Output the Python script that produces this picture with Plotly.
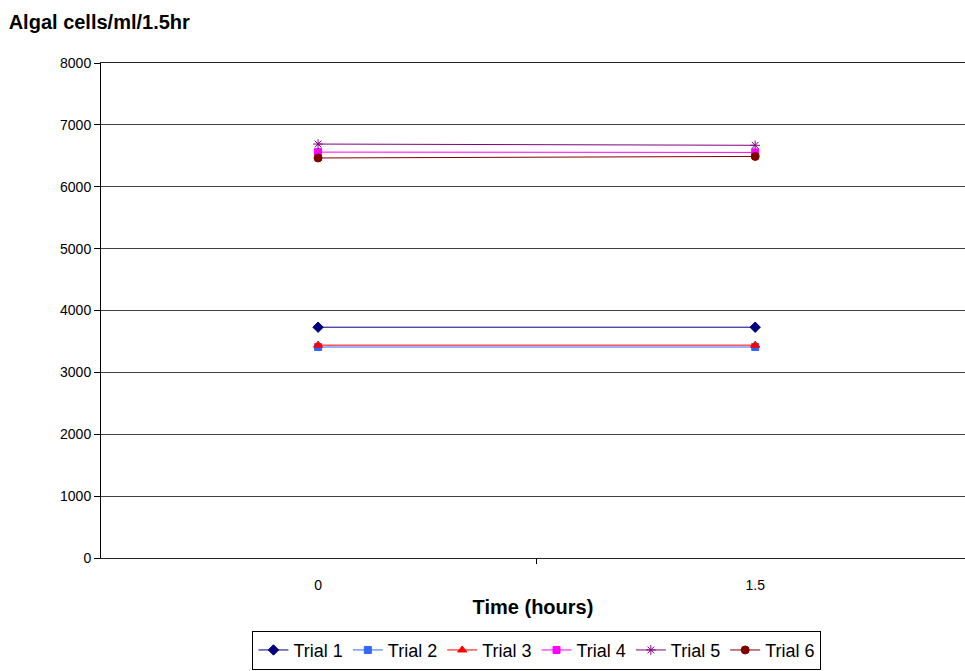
import plotly.graph_objects as go

categories = ["0", "1.5"]
trial_names = ["Trial 1", "Trial 2", "Trial 3", "Trial 4", "Trial 5", "Trial 6"]
trial1 = [3730, 3730]
trial2 = [3410, 3410]
trial3 = [3440, 3440]
trial4 = [6560, 6555]
trial5 = [6690, 6670]
trial6 = [6465, 6490]
series = [trial1, trial2, trial3, trial4, trial5, trial6]
colors = ["#000080", "#3366FF", "#FF0000", "#FF00FF", "#800080", "#800000"]
symbols = ["diamond", "square", "triangle-up", "square", "asterisk-open", "circle"]
sizes = [8, 7, 8, 7, 8, 8]

xpos = list(range(len(categories)))

fig = go.Figure()
for name, vals, c, s, sz in zip(trial_names, series, colors, symbols, sizes):
    fig.add_trace(go.Scatter(
        x=xpos, y=vals, name=name, mode="lines+markers",
        line=dict(color=c, width=1),
        marker=dict(color=c, symbol=s, size=sz, line=dict(color=c, width=1)),
    ))

font = "Arial, Liberation Sans, sans-serif"
fig.update_layout(
    width=965, height=671,
    margin=dict(l=101, r=0, t=63, b=113, autoexpand=False),
    paper_bgcolor="white", plot_bgcolor="white",
    font=dict(family=font, size=14, color="black"),
    title=dict(text="<b>Algal cells/ml/1.5hr</b>", font=dict(size=20, family=font),
               x=0.009, xanchor="left", xref="container", y=0.967, yanchor="middle"),
    showlegend=True,
    legend=dict(orientation="h", x=0.5046, xanchor="center",
                y=-0.147, yanchor="top",
                bordercolor="black", borderwidth=1, font=dict(size=18, family=font),
                itemwidth=30, tracegroupgap=0),
)
fig.update_xaxes(
    range=[-0.4966, 1.48], tickvals=xpos, ticktext=categories, ticks="",
    showline=True, linecolor="#202020", linewidth=1, mirror=True,
    showgrid=False, zeroline=False,
    ticklabelstandoff=14, tickfont=dict(size=14),
    minor=dict(tickvals=[-0.5, 0.5, 1.5], ticks="outside", ticklen=5, tickcolor="black", showgrid=False),
    title=dict(text="<b>Time (hours)</b>", font=dict(size=20), standoff=8),
)
fig.update_yaxes(
    range=[0, 8000], tickvals=[0, 1000, 2000, 3000, 4000, 5000, 6000, 7000, 8000],
    ticks="outside", ticklen=6, tickcolor="black",
    showline=True, linecolor="black", linewidth=1,
    showgrid=True, gridcolor="#404040", gridwidth=1, zeroline=False,
    tickfont=dict(size=14),
)

fig.write_html("out.html")
